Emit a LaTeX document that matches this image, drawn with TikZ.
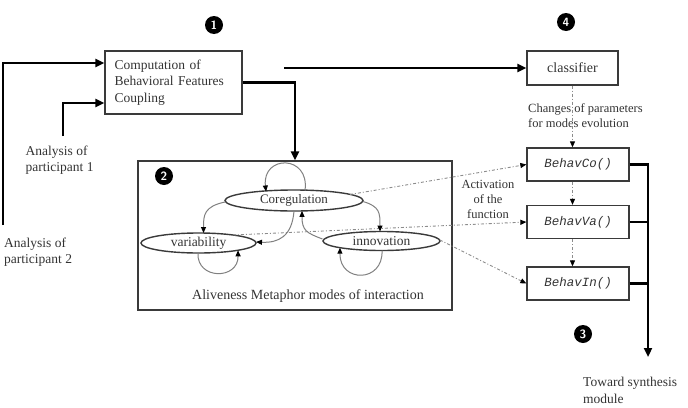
\documentclass[tikz,border=0pt]{standalone}
\usepackage{fontspec}
\setmainfont{Liberation Serif}
\setmonofont{Liberation Mono}
\usetikzlibrary{arrows.meta,shapes.geometric,calc}
\definecolor{txt}{HTML}{333333}
\definecolor{edge}{HTML}{3A3A3A}
\definecolor{loopc}{HTML}{808080}
\definecolor{dashc}{HTML}{8C8C8C}
\newcommand\myfs[2]{\fontsize{#1}{#2}\selectfont}
\begin{document}
\begin{tikzpicture}[x=1pt,y=-1pt,
  box/.style={draw=edge,line width=1.3pt,inner sep=0pt,text=txt},
  ell/.style={ellipse,draw=edge,line width=1.4pt,inner sep=0pt,text=txt,font=\myfs{13.5}{15}},
  lbl/.style={text=txt,inner sep=0pt,align=left,font=\myfs{13.5}{16.5}},
  main/.style={line width=2.2pt,-{Triangle[length=9pt,width=8pt]}},
  mainline/.style={line width=2.2pt},
  lp/.style={draw=loopc,line width=1pt,-{Triangle[length=6pt,width=5pt,color=black]}},
  dd/.style={draw=dashc,line width=0.9pt,dash pattern=on 3pt off 2pt on 1pt off 2pt,-{Triangle[length=6pt,width=5pt,color=black]}},
  num/.style={circle,fill=black,minimum size=18pt,inner sep=0pt,text=white,font=\sffamily\bfseries\myfs{12}{12}},
  fn/.style={box,minimum width=102pt,minimum height=33pt,font=\ttfamily\itshape\myfs{12.5}{14}}
]
\useasboundingbox (0,0) rectangle (688,407);

% boxes
\node[box,minimum width=314pt,minimum height=149pt] (zone) at (295,235.5) {};
\node[box,minimum width=137pt,minimum height=63pt,text width=118pt,inner xsep=9.5pt,align=left,font=\myfs{13.5}{16.5}] (comp) at (173.5,82.5) {Computation of\\Behavioral Features\\Coupling};
\node[box,minimum width=91pt,minimum height=34pt,font=\myfs{14}{16}] (cls) at (572.5,68) {classifier};
\node[fn] (bco) at (578,164.5) {BehavCo()};
\node[fn] (bva) at (578,222) {BehavVa()};
\node[fn] (bin) at (578,283.5) {BehavIn()};

% ellipses
\node[ell,minimum width=138pt,minimum height=21pt,font=\myfs{13}{15}] (coreg) at (294,200.5) {Coregulation};
\node[ell,minimum width=115pt,minimum height=20pt] (var) at (198.5,243) {variability};
\node[ell,minimum width=117pt,minimum height=19pt] (inn) at (381.5,241) {innovation};

% labels
\node[lbl,anchor=west] (p1) at (25.5,160) {Analysis of\\participant 1};
\node[lbl,anchor=west] (p2) at (4,252) {Analysis of\\participant 2};
\node[lbl,anchor=west,font=\myfs{12.5}{15}] (chg) at (528,115.5) {Changes of parameters\\for modes evolution};
\node[lbl,align=center,font=\myfs{12.5}{15}] (act) at (488,199) {Activation\\of the\\function};
\node[lbl,anchor=west] (tow) at (583,390.5) {Toward synthesis\\module};
\node[lbl,font=\myfs{14}{16}] (alive) at (308,296) {Aliveness Metaphor modes of interaction};

% numbers
\node[num] (n1) at (214,25) {1};
\node[num] (n4) at (566,22) {4};
\node[num] (n2) at (164,176) {2};
\node[num] (n3) at (583,334) {3};

% main connectors
\coordinate (p1s) at (63,136);
\coordinate (p2s) at (3,225);
\coordinate (cs) at (284,68);
\coordinate (bus) at (648,357);
\draw[main] (p1s) |- (comp.west |- 0,103);
\draw[main] (p2s) |- (comp.west |- 0,63);
\draw[main] (comp.east) -| (zone.north);
\draw[main] (cs) -- (cls.west);
\draw[main] (bco.east) -| (bus);
\draw[mainline] (bva.east) -- (bva.east -| bus);
\draw[mainline] (bin.east) -- (bin.east -| bus);

% dashed flow
\draw[dd] (cls.south) -- (cls.south |- bco.north);
\draw[dd] (bco.south -| cls.south) -- (bva.north -| cls.south);
\draw[dd] (bva.south -| cls.south) -- (bin.north -| cls.south);
\draw[dd] ($(coreg)+(56,-6)$) -- (bco.west);
\draw[dd] ($(var)+(34.5,-8)$) -- (bva.west);
\draw[dd] ($(inn)+(58.5,-1)$) -- (bin.west);

% loops
\draw[lp] ($(coreg)+(11,-10)$) .. controls ($(coreg)+(16,-46)$) and ($(coreg)+(-32,-46)$) .. ($(coreg)+(-28,-9)$);
\draw[lp] ($(coreg)+(-69,1.5)$) .. controls ($(coreg)+(-90,6)$) and ($(var)+(5,-28)$) .. ($(var)+(5,-10)$);
\draw[lp] ($(coreg)+(69,1)$) .. controls ($(coreg)+(86,6)$) and ($(inn)+(-1.5,-28)$) .. ($(inn)+(-1.5,-9.5)$);
\draw[lp] ($(coreg)+(0,10.5)$) .. controls ($(coreg)+(-2,36)$) and ($(var)+(80,0)$) .. ($(var)+(57.5,-1)$);
\draw[lp] ($(inn)+(-59,-2)$) .. controls ($(inn)+(-75,-8)$) and ($(coreg)+(8,30)$) .. ($(coreg)+(8,10.4)$);
\draw[lp] ($(var)+(-0.5,10)$) .. controls ($(var)+(-2,37)$) and ($(var)+(40,37)$) .. ($(var)+(39.5,7.3)$);
\draw[lp] ($(inn)+(0.5,9.5)$) .. controls ($(inn)+(2,42)$) and ($(inn)+(-42,42)$) .. ($(inn)+(-41.5,6.7)$);
\end{tikzpicture}
\end{document}
